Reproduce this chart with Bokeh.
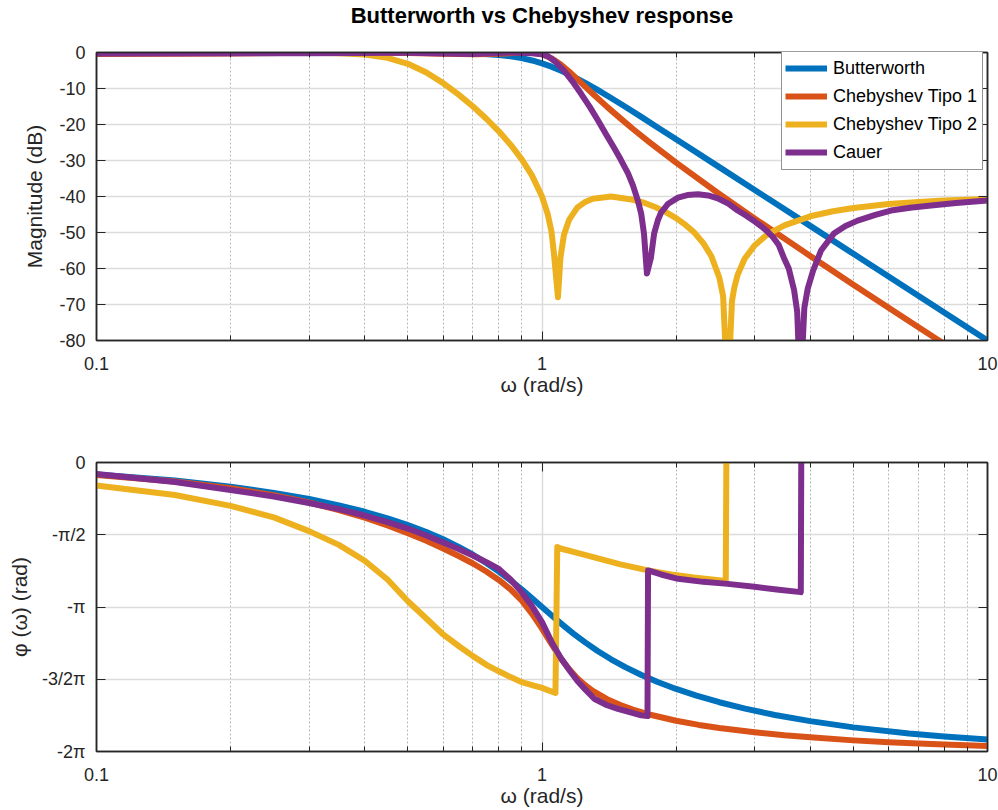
import numpy as np
from bokeh.plotting import figure
from bokeh.models import (FixedTicker, CustomJSTickFormatter, LogAxis, LinearAxis,
                          Range1d, Legend, LegendItem)
from bokeh.layouts import column
from bokeh.embed import file_html
from bokeh.resources import INLINE

# ---------------------------------------------------------------- data
# Frequencies in rad/s, magnitudes in dB, phases in units of pi.

# Butterworth
bw_w = [0.1, 0.2, 0.3, 0.4, 0.5, 0.6, 0.7, 0.8, 0.85, 0.9, 0.95, 1.0, 1.05, 1.111, 1.176,
        1.25, 1.333, 1.429, 1.538, 1.667, 1.818, 2.0, 2.5, 3.333, 4.0, 5.0, 6.667, 10.0]
bw_db = [0.0, 0.0, 0.0, 0.0, -0.02, -0.07, -0.24, -0.67, -1.05, -1.55, -2.21, -3.01, -3.94,
         -5.21, -6.69, -8.43, -10.41, -12.64, -15.09, -17.82, -20.81, -24.10, -31.84,
         -41.83, -48.16, -55.92, -65.90, -80.0]
bw_pw = [0.1, 0.15, 0.2, 0.25, 0.3, 0.35, 0.4, 0.45, 0.5, 0.55, 0.6, 0.65, 0.7, 0.75, 0.8,
         0.85, 0.9, 0.95, 1.0, 1.053, 1.111, 1.176, 1.25, 1.333, 1.429, 1.538, 1.667, 1.818,
         2.0, 2.222, 2.5, 2.857, 3.333, 4.0, 5.0, 6.667, 8.0, 10.0]
bw_ph = [-0.083, -0.125, -0.167, -0.210, -0.253, -0.2965, -0.341, -0.3865, -0.433, -0.4814,
         -0.531, -0.5838, -0.638, -0.6952, -0.755, -0.8162, -0.878, -0.9399, -1.0, -1.0601,
         -1.122, -1.1838, -1.245, -1.3048, -1.362, -1.4162, -1.469, -1.5186, -1.567,
         -1.6135, -1.659, -1.7035, -1.747, -1.790, -1.833, -1.875, -1.896, -1.917]

# Chebyshev type 1
c1_w = [0.1, 0.2, 0.3, 0.38, 0.5, 0.6, 0.71, 0.8, 0.9, 0.92, 0.95, 1.0, 1.05, 1.1, 1.15,
        1.2, 1.25, 1.3, 1.4, 1.5, 1.6, 1.75, 2.0, 2.5, 3.0, 4.0, 5.0, 7.0, 10.0]
c1_db = [-0.43, -0.25, -0.06, 0.0, -0.13, -0.36, -0.5, -0.36, -0.03, 0.0, -0.05, -0.5,
         -1.59, -3.26, -5.28, -7.4, -9.48, -11.46, -15.11, -18.3, -21.25, -25.1, -30.6,
         -39.3, -46.1, -56.5, -64.5, -76.3, -88.8]
c1_pw = [0.1, 0.15, 0.2, 0.25, 0.3, 0.35, 0.4, 0.45, 0.5, 0.55, 0.6, 0.65, 0.7, 0.75, 0.8,
         0.85, 0.9, 0.95, 1.0, 1.05, 1.1, 1.15, 1.2, 1.25, 1.3, 1.4, 1.5, 1.6, 1.75, 2.0,
         2.25, 2.5, 3.0, 3.5, 4.0, 5.0, 6.0, 7.0, 8.0, 10.0]
c1_ph = [-0.087, -0.132, -0.178, -0.227, -0.277, -0.329, -0.382, -0.436, -0.489, -0.542,
         -0.595, -0.647, -0.699, -0.754, -0.8125, -0.878, -0.955, -1.047, -1.150, -1.256,
         -1.352, -1.430, -1.4925, -1.541, -1.580, -1.638, -1.679, -1.710, -1.746, -1.787,
         -1.816, -1.837, -1.867, -1.888, -1.902, -1.923, -1.936, -1.945, -1.952, -1.962]

# Chebyshev type 2
c2_w = [0.1, 0.2, 0.3, 0.35, 0.4, 0.45, 0.5, 0.55, 0.6, 0.65, 0.7, 0.75, 0.8, 0.85, 0.9,
        0.95, 1.0, 1.03, 1.05, 1.064, 1.086, 1.1, 1.12, 1.15, 1.2, 1.25, 1.3, 1.43, 1.6,
        1.7, 1.8, 1.9, 2.0, 2.1, 2.2, 2.3, 2.4, 2.5, 2.55, 2.61, 2.67, 2.7, 2.75, 2.85,
        3.0, 3.2, 3.5, 4.0, 4.5, 5.0, 6.0, 7.0, 8.0, 10.0]
c2_db = [0.0, 0.0, -0.05, -0.19, -0.58, -1.48, -3.14, -5.56, -8.5, -11.7, -15.0, -18.4,
         -21.9, -25.6, -29.6, -34.2, -40.0, -44.9, -49.7, -56.0, -68.0, -57.0, -50.7,
         -46.5, -43.1, -41.5, -40.6, -40.0, -40.9, -41.8, -43.0, -44.4, -46.0, -47.9,
         -50.1, -52.9, -56.6, -62.5, -67.7, -95.0, -69.0, -65.5, -61.7, -57.3, -53.6,
         -50.6, -48.0, -45.5, -44.1, -43.2, -42.1, -41.5, -41.1, -40.7]
c2_pw = [0.1, 0.15, 0.2, 0.25, 0.3, 0.35, 0.4, 0.45, 0.5, 0.55, 0.6, 0.65, 0.7, 0.75, 0.8,
         0.85, 0.9, 0.95, 1.0, 1.072, 1.082, 1.1, 1.2, 1.31, 1.5, 1.73, 1.95, 2.19, 2.585,
         2.595, 3.0, 4.0, 6.0, 10.0]
c2_ph = [-0.159, -0.225, -0.30, -0.38, -0.475, -0.57, -0.68, -0.81, -0.96, -1.08, -1.19,
         -1.27, -1.34, -1.40, -1.445, -1.485, -1.52, -1.54, -1.56, -1.595, -0.585, -0.595,
         -0.625, -0.657, -0.705, -0.747, -0.775, -0.796, -0.82, 0.18, 0.14, 0.09, 0.05,
         0.03]

# Cauer (elliptic)
ca_w = [0.1, 0.3, 0.5, 0.7, 0.85, 0.95, 1.0, 1.03, 1.07, 1.12, 1.17, 1.223, 1.28, 1.336,
        1.39, 1.45, 1.5, 1.56, 1.6, 1.64, 1.67, 1.694, 1.72, 1.756, 1.785, 1.82, 1.85,
        1.92, 2.02, 2.12, 2.24, 2.36, 2.48, 2.62, 2.75, 2.88, 3.0, 3.1, 3.2, 3.3, 3.4,
        3.49, 3.58, 3.68, 3.74, 3.80, 3.88, 3.95, 4.06, 4.23, 4.52, 4.8, 5.11, 5.6, 6.07,
        6.7, 7.47, 8.5, 10.0]
ca_db = [-0.3, -0.2, -0.1, -0.4, 0.0, -0.2, -0.5, -1.0, -2.5, -5.0, -8.0, -11.4, -15.1,
         -18.9, -22.6, -26.4, -29.6, -33.6, -36.9, -41.0, -44.8, -50.3, -61.4, -57.0,
         -50.3, -46.6, -44.5, -42.0, -40.3, -39.6, -39.4, -39.7, -40.5, -42.0, -43.9,
         -45.4, -46.9, -48.2, -49.6, -51.3, -53.5, -57.0, -60.0, -66.0, -72.0, -95.0,
         -71.0, -65.5, -60.6, -55.0, -50.3, -48.2, -46.7, -45.1, -43.9, -43.1, -42.5,
         -41.8, -41.1]
ca_pw = [0.1, 0.15, 0.2, 0.25, 0.3, 0.35, 0.4, 0.45, 0.5, 0.55, 0.6, 0.65, 0.7, 0.75, 0.8,
         0.85, 0.9, 0.95, 1.0, 1.05, 1.1, 1.16, 1.2, 1.25, 1.31, 1.4, 1.48, 1.58, 1.67,
         1.725, 1.73, 1.85, 2.02, 2.3, 2.61, 3.0, 3.4, 3.81, 3.82, 5.0, 10.0]
ca_ph = [-0.08, -0.135, -0.19, -0.235, -0.28, -0.323, -0.367, -0.412, -0.457, -0.505,
         -0.553, -0.598, -0.644, -0.69, -0.736, -0.81, -0.897, -0.995, -1.105, -1.24,
         -1.35, -1.45, -1.51, -1.57, -1.635, -1.68, -1.705, -1.73, -1.75, -1.755, -0.747,
         -0.775, -0.805, -0.826, -0.840, -0.860, -0.880, -0.897, 0.10, 0.07, 0.03]

series_names = ["Butterworth", "Chebyshev Tipo 1", "Chebyshev Tipo 2", "Cauer"]
series_colors = ["#0072BD", "#D95319", "#EDB120", "#7E2F8E"]

x_major = [0.1, 1.0, 10.0]
x_minor = [0.2, 0.3, 0.4, 0.5, 0.6, 0.7, 0.8, 0.9, 2, 3, 4, 5, 6, 7, 8, 9]
mag_ticks = [-80, -70, -60, -50, -40, -30, -20, -10, 0]
phase_steps = [-4, -3, -2, -1, 0]          # multiples of pi/2
phase_labels = ["-2π", "-3/2π", "-π", "-π/2", "0"]

# ---------------------------------------------------------------- styling
FONT = "Liberation Sans"
INK = "#262626"
TICK_PX = "18px"
LABEL_PX = "21px"
LW = 6
FRAME_W = 891

blank = CustomJSTickFormatter(code="return '';")
x_fmt = CustomJSTickFormatter(code="return tick.toString();")
phase_fmt = CustomJSTickFormatter(
    args=dict(steps=phase_steps, labels=phase_labels),
    code="const k = Math.round(tick / (Math.PI / 2)); const i = steps.indexOf(k);"
         "return i >= 0 ? labels[i] : '';")


def style_axis(ax, major_in=9):
    ax.axis_line_color = INK
    ax.axis_line_width = 1.5
    ax.major_tick_line_color = INK
    ax.minor_tick_line_color = INK
    ax.major_tick_in = major_in
    ax.major_tick_out = 0
    ax.minor_tick_in = 5
    ax.minor_tick_out = 0
    ax.major_label_text_font = FONT
    ax.major_label_text_font_size = TICK_PX
    ax.major_label_text_color = INK
    ax.axis_label_text_font = FONT
    ax.axis_label_text_font_size = LABEL_PX
    ax.axis_label_text_font_style = "normal"
    ax.axis_label_text_color = INK


def make_panel(y_range, y_ticks, y_fmt, y_label, top_border, bottom_border, frame_h,
               top_gap=False):
    x_ticker = FixedTicker(ticks=x_major, minor_ticks=x_minor)
    y_ticker = FixedTicker(ticks=y_ticks)
    p = figure(x_axis_type="log", x_range=Range1d(0.1, 10), y_range=y_range,
               frame_width=FRAME_W, frame_height=frame_h,
               min_border_left=96, min_border_right=11,
               min_border_top=top_border, min_border_bottom=bottom_border,
               output_backend="svg", toolbar_location=None,
               background_fill_color="white", border_fill_color="white")
    p.outline_line_color = INK
    p.outline_line_width = 1.5

    xa = p.xaxis[0]
    xa.ticker = x_ticker
    xa.formatter = x_fmt
    xa.axis_label = "ω (rad/s)"
    style_axis(xa)
    xa.major_label_standoff = 16
    xa.axis_label_standoff = 0

    ya = p.yaxis[0]
    ya.ticker = y_ticker
    ya.formatter = y_fmt
    ya.axis_label = y_label
    style_axis(ya)
    ya.major_label_standoff = 11
    ya.axis_label_standoff = 10

    # mirrored tick marks on the top and right edges of the box
    top = LogAxis(ticker=x_ticker, formatter=blank)
    style_axis(top)
    top.major_label_standoff = 0
    if top_gap:
        # blank axis label keeps some room between the box and the heading
        top.axis_label = "\u00a0"
        top.axis_label_text_font_size = "19px"
        top.axis_label_standoff = 1
    p.add_layout(top, "above")
    right = LinearAxis(ticker=y_ticker, formatter=blank)
    style_axis(right)
    right.major_label_standoff = 0
    p.add_layout(right, "right")

    p.xgrid.grid_line_color = "#dcdcdc"
    p.xgrid.grid_line_width = 1.5
    p.xgrid.minor_grid_line_color = "#b8b8b8"
    p.xgrid.minor_grid_line_width = 1
    p.xgrid.minor_grid_line_dash = "2 2"
    p.ygrid.grid_line_color = "#dcdcdc"
    p.ygrid.grid_line_width = 1.5
    return p


# ---------------------------------------------------------------- magnitude
p1 = make_panel(Range1d(-80, 0), mag_ticks, CustomJSTickFormatter(code="return tick.toString();"),
                "Magnitude (dB)", 52, 62, 288, top_gap=True)
p1.title.text = "Butterworth vs Chebyshev response"
p1.title.text_font = FONT
p1.title.text_font_size = "22px"
p1.title.text_font_style = "bold"
p1.title.text_color = "black"
p1.title.align = "center"
p1.title.standoff = 0

mag_series = [(bw_w, bw_db), (c1_w, c1_db), (c2_w, c2_db), (ca_w, ca_db)]
items = []
for (w, db), name, col in zip(mag_series, series_names, series_colors):
    r = p1.line(w, db, line_width=LW, line_color=col, line_join="round")
    items.append(LegendItem(label=name, renderers=[r]))

legend = Legend(items=items, location=(685, 170), margin=0, padding=3, spacing=0,
                glyph_width=42, glyph_height=28, label_height=28, label_width=146,
                label_standoff=6,
                label_text_font=FONT, label_text_font_size="18px", label_text_color="black",
                border_line_color=INK, border_line_width=1.2,
                background_fill_color="white", background_fill_alpha=1.0)
p1.add_layout(legend)

# ---------------------------------------------------------------- phase
p2 = make_panel(Range1d(-2 * np.pi, 0), [s * np.pi / 2 for s in phase_steps], phase_fmt,
                "φ (ω) (rad)", 60, 58, 289)
p2.yaxis[0].axis_label_standoff = 8

phase_series = [(bw_pw, bw_ph), (c1_pw, c1_ph), (c2_pw, c2_ph), (ca_pw, ca_ph)]
for (w, ph), col in zip(phase_series, series_colors):
    p2.line(w, [v * np.pi for v in ph], line_width=LW, line_color=col, line_join="round")

layout = column(p1, p2, spacing=0)
open("out.html", "w").write(file_html(layout, INLINE))
